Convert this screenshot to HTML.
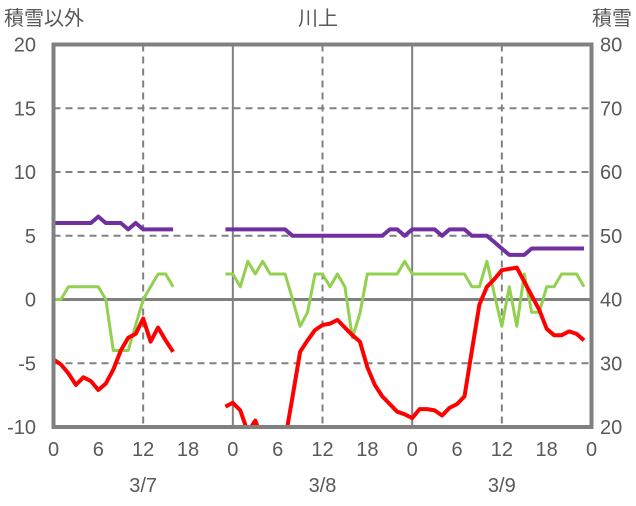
<!DOCTYPE html>
<html><head><meta charset="utf-8"><style>
body{margin:0;background:#fff;}
svg text{font-family:"Liberation Sans","Noto Sans CJK JP",sans-serif;fill:#595959;font-size:20px;}
</style></head><body>
<svg id="chart" width="636" height="501" viewBox="0 0 636 501" xmlns="http://www.w3.org/2000/svg">
<text x="4" y="25">積雪以外</text>
<text x="318" y="25" text-anchor="middle">川上</text>
<text x="632" y="25" text-anchor="end">積雪</text>
<g id="grid"></g><g id="series"></g><g id="frame"></g><g id="labels"></g>
</svg>
<script>
const leftTicks=[20,15,10,5,0,-5,-10];
const rightTicks=[80,70,60,50,40,30,20];
const hourTicks=[0,6,12,18,0,6,12,18,0,6,12,18,0];
const dayLabels=["3/7","3/8","3/9"];
// series: start hour (absolute from 3/7 0:00) and hourly values
const redStart1=0;
const red1=[-4.7,-5.1,-5.8,-6.7,-6.1,-6.4,-7.1,-6.6,-5.5,-4.0,-3.0,-2.7,-1.5,-3.3,-2.2,-3.2,-4.1];
const redStart2=23;
const red2=[-8.4,-8.1,-8.7,-10.4,-9.5,-11,-12,-12,-11,-7.6,-4.1,-3.2,-2.4,-2.0,-1.9,-1.6,-2.2,-2.8,-3.3,-5.3,-6.7,-7.6,-8.2,-8.8,-9.0,-9.3,-8.6,-8.6,-8.7,-9.1,-8.5,-8.2,-7.6,-4.0,-0.4,1.0,1.6,2.3,2.4,2.5,1.4,0.3,-0.8,-2.3,-2.8,-2.8,-2.5,-2.7,-3.2];
const greenStart1=0;
const green1=[0,0,1,1,1,1,1,0,-4,-4,-4,-2,0,1,2,2,1];
const greenStart2=23;
const green2=[2,2,1,3,2,3,2,2,2,0,-2.1,-1,2,2,1,2,1,-3,-1.1,2,2,2,2,2,3,2,2,2,2,2,2,2,2,1,1,3,0.4,-2.1,1,-2.1,2,-1,-1,1,1,2,2,2,1];
const purpleStart1=0;
const purple1=[6,6,6,6,6,6,6.5,6,6,6,5.5,6,5.5,5.5,5.5,5.5,5.5];
const purpleStart2=23;
const purple2=[5.5,5.5,5.5,5.5,5.5,5.5,5.5,5.5,5.5,5,5,5,5,5,5,5,5,5,5,5,5,5,5.5,5.5,5,5.5,5.5,5.5,5.5,5,5.5,5.5,5.5,5,5,5,4.5,4,3.5,3.5,3.5,4,4,4,4,4,4,4,4];

const NS="http://www.w3.org/2000/svg";
const X0=53.5,X1=591.5,Y0=44.5,Y1=427;
const xs=h=>X0+h*(X1-X0)/72;
const ys=v=>Y0+(20-v)*(Y1-Y0)/30;
function mk(tag,attrs,parent){const e=document.createElementNS(NS,tag);for(const k in attrs)e.setAttribute(k,attrs[k]);document.getElementById(parent).appendChild(e);return e;}
// horizontal grid
leftTicks.forEach(v=>{
 if(v===20||v===-10)return;
 const l=mk('line',{x1:X0,x2:X1,y1:ys(v),y2:ys(v),stroke:'#808080','stroke-width':v===0?3:2,'stroke-dasharray':v===0?'none':'7,5'},'grid');
 
 
});
// vertical grid
for(let h=12;h<72;h+=12){
 const solid=h%24===0;
 const l=mk('line',{x1:xs(h),x2:xs(h),y1:Y0,y2:Y1,stroke:'#808080','stroke-width':2,'stroke-dasharray':solid?'none':'7,5'},'grid');
 
 
}
// clip
const defs=mk('defs',{},'series');
const cp=document.createElementNS(NS,'clipPath');cp.setAttribute('id','clip');defs.appendChild(cp);
const r=document.createElementNS(NS,'rect');r.setAttribute('x',X0);r.setAttribute('y',Y0);r.setAttribute('width',X1-X0);r.setAttribute('height',Y1-Y0);cp.appendChild(r);
function line(start,vals,color,w,name){
 const pts=vals.map((v,i)=>xs(start+i).toFixed(1)+','+ys(v).toFixed(1)).join(' ');
 const p=mk('polyline',{points:pts,fill:'none',stroke:color,'stroke-width':w,'stroke-linejoin':'round','clip-path':'url(#clip)'},'series');
 
 
}
line(greenStart1,green1,'#92d050',3,'other-series-green-3-7');
line(greenStart2,green2,'#92d050',3,'other-series-green-3-8');
line(purpleStart1,purple1,'#7030a0',4,'snow-series-purple-3-7');
line(purpleStart2,purple2,'#7030a0',4,'snow-series-purple-3-8');
line(redStart1,red1,'#ff0000',4,'temperature-series-red-3-7');
line(redStart2,red2,'#ff0000',4,'temperature-series-red-3-8');
// frame
const f=mk('rect',{x:X0,y:Y0,width:X1-X0,height:Y1-Y0,fill:'none',stroke:'#808080','stroke-width':4},'frame');


// labels
leftTicks.forEach(v=>{
 const t=mk('text',{x:36,y:ys(v)+7,'text-anchor':'end'},'labels');t.textContent=v;
 
 
});
rightTicks.forEach((v,i)=>{
 const t=mk('text',{x:600,y:ys(leftTicks[i])+7},'labels');t.textContent=v;
 
 
});
hourTicks.forEach((v,i)=>{
 const t=mk('text',{x:xs(i*6),y:456,'text-anchor':'middle'},'labels');t.textContent=v;
 
 
});
dayLabels.forEach((d,i)=>{
 const t=mk('text',{x:xs(i*24+12),y:492,'text-anchor':'middle'},'labels');t.textContent=d;
 
 
});
</script>
</body></html>
